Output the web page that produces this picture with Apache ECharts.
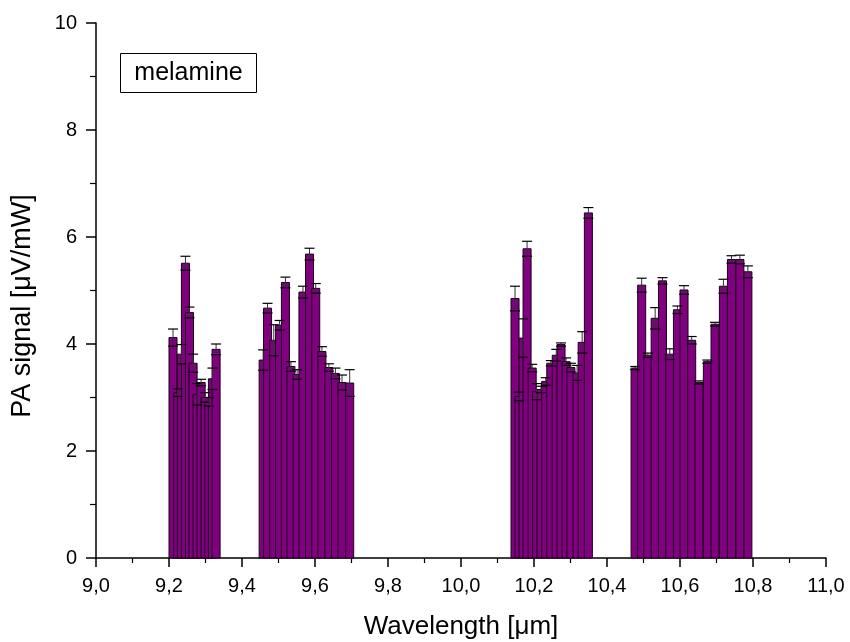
<!DOCTYPE html>
<html>
<head>
<meta charset="utf-8">
<script src="https://cdn.jsdelivr.net/npm/echarts@6/dist/echarts.min.js"></script>
<style>
html,body{margin:0;padding:0;background:#fff;}
#chart{width:850px;height:642px;}
</style>
</head>
<body>
<div id="chart"></div>
<script>
// ---- data ----
const wavelength = [
  9.211, 9.224, 9.234, 9.245, 9.256, 9.266, 9.277, 9.288, 9.299, 9.309, 9.319, 9.329,
  9.458, 9.470, 9.487, 9.503, 9.519, 9.534, 9.551, 9.567, 9.585, 9.602, 9.619, 9.638, 9.656, 9.674, 9.695,
  10.148, 10.159, 10.170, 10.181, 10.195, 10.207, 10.219, 10.232, 10.246, 10.261, 10.274, 10.288, 10.301, 10.318, 10.332, 10.349,
  10.477, 10.495, 10.512, 10.532, 10.552, 10.572, 10.593, 10.611, 10.632, 10.652, 10.675, 10.696, 10.719, 10.741, 10.764, 10.786
];
const signal = [
  4.12, 3.09, 3.81, 5.51, 4.59, 3.64, 3.06, 3.28, 3.00, 2.92, 3.35, 3.90,
  3.70, 4.67, 4.07, 4.35, 5.15, 3.58, 3.43, 4.97, 5.68, 5.04, 3.86, 3.56, 3.45, 3.28, 3.27,
  4.85, 3.02, 4.11, 5.78, 3.55, 3.11, 3.15, 3.30, 3.64, 3.79, 3.99, 3.67, 3.56, 3.46, 4.03, 6.45,
  3.55, 5.10, 3.79, 4.48, 5.18, 3.81, 4.64, 5.01, 4.07, 3.28, 3.67, 4.37, 5.08, 5.58, 5.58, 5.35
];
const errors = [
  0.16, 0.07, 0.18, 0.13, 0.10, 0.17, 0.20, 0.06, 0.09, 0.08, 0.20, 0.10,
  0.19, 0.09, 0.29, 0.09, 0.10, 0.09, 0.09, 0.11, 0.11, 0.09, 0.09, 0.07, 0.10, 0.14, 0.25,
  0.23, 0.08, 0.36, 0.14, 0.07, 0.15, 0.06, 0.07, 0.05, 0.11, 0.03, 0.07, 0.08, 0.14, 0.20, 0.10,
  0.03, 0.13, 0.04, 0.20, 0.06, 0.10, 0.07, 0.08, 0.07, 0.03, 0.03, 0.035, 0.13, 0.07, 0.08, 0.11
];
const xTicks = { min: 9.0, max: 11.0, step: 0.2 };
const yTicks = { min: 0, max: 10, step: 2 };
const xTitle = 'Wavelength [\u03bcm]';
const yTitle = 'PA signal [\u03bcV/mW]';
const sampleName = 'melamine';

// ---- styling ----
const BAR_W = 0.022;           // bar width in µm
const FONT = "'Liberation Sans', Arial, sans-serif";
const data = wavelength.map((w, i) => [w, signal[i], errors[i]]);

function renderBar(params, api) {
  const x = api.value(0), y = api.value(1);
  const p1 = api.coord([x - BAR_W / 2, y]);
  const p2 = api.coord([x + BAR_W / 2, 0]);
  return {
    type: 'rect',
    shape: { x: p1[0], y: p1[1], width: p2[0] - p1[0], height: p2[1] - p1[1] },
    style: { fill: '#800080', stroke: '#1a001a', lineWidth: 1 }
  };
}
function renderErr(params, api) {
  const x = api.value(0), y = api.value(1), e = api.value(2);
  const top = api.coord([x, y + e]);
  const bot = api.coord([x, y - e]);
  const hw = 5;
  return {
    type: 'group',
    children: [
      { type: 'line', shape: { x1: top[0], y1: top[1], x2: bot[0], y2: bot[1] }, style: { stroke: '#333', lineWidth: 1 } },
      { type: 'line', shape: { x1: top[0] - hw, y1: top[1], x2: top[0] + hw, y2: top[1] }, style: { stroke: '#000', lineWidth: 1.2 } },
      { type: 'line', shape: { x1: bot[0] - hw, y1: bot[1], x2: bot[0] + hw, y2: bot[1] }, style: { stroke: '#000', lineWidth: 1.2 } }
    ]
  };
}

const chart = echarts.init(document.getElementById('chart'), null, { renderer: 'canvas' });
chart.setOption({
  animation: false,
  backgroundColor: '#fff',
  textStyle: { fontFamily: FONT },
  grid: { left: 96, right: 24, top: 23, bottom: 84, containLabel: false, outerBoundsMode: 'none' },
  xAxis: {
    type: 'value',
    min: xTicks.min, max: xTicks.max, interval: xTicks.step,
    name: xTitle,
    nameLocation: 'middle', nameGap: 56,
    nameTextStyle: { fontSize: 26, color: '#000', fontFamily: FONT },
    axisLine: { show: true, onZero: false, lineStyle: { color: '#000', width: 1.5 } },
    axisTick: { show: true, inside: false, length: 9, lineStyle: { color: '#000', width: 1.5 } },
    minorTick: { show: true, splitNumber: 2, length: 5, lineStyle: { color: '#000', width: 1.2 } },
    axisLabel: { fontSize: 20, color: '#000', margin: 18, fontFamily: FONT,
      formatter: v => v.toFixed(1).replace('.', ',') },
    splitLine: { show: false }
  },
  yAxis: {
    type: 'value',
    min: yTicks.min, max: yTicks.max, interval: yTicks.step,
    axisLine: { show: true, lineStyle: { color: '#000', width: 1.5 } },
    axisTick: { show: true, inside: false, length: 10, lineStyle: { color: '#000', width: 1.5 } },
    minorTick: { show: true, splitNumber: 2, length: 6, lineStyle: { color: '#000', width: 1.2 } },
    axisLabel: { fontSize: 20, color: '#000', margin: 19, fontFamily: FONT },
    splitLine: { show: false }
  },
  graphic: [
    {
      type: 'group', left: 120, top: 53,
      children: [
        { type: 'rect', shape: { x: 0, y: 0, width: 136, height: 39 }, style: { fill: '#fff', stroke: '#000', lineWidth: 1 } },
        { type: 'text', x: 68, y: 20, style: { text: sampleName, fontSize: 25, fontFamily: FONT, fill: '#000', align: 'center', verticalAlign: 'middle' } }
      ]
    },
    {
      type: 'text', x: 23, y: 306, rotation: Math.PI / 2,
      style: { text: yTitle, fontSize: 27, fontFamily: FONT, fill: '#000', align: 'center', verticalAlign: 'middle' }
    }
  ],
  series: [
    { type: 'custom', name: 'bars', renderItem: renderBar, data: data, encode: { x: 0, y: 1 }, z: 2 },
    { type: 'custom', name: 'errors', renderItem: renderErr, data: data, encode: { x: 0, y: 1 }, z: 3 }
  ]
});
</script>
</body>
</html>
